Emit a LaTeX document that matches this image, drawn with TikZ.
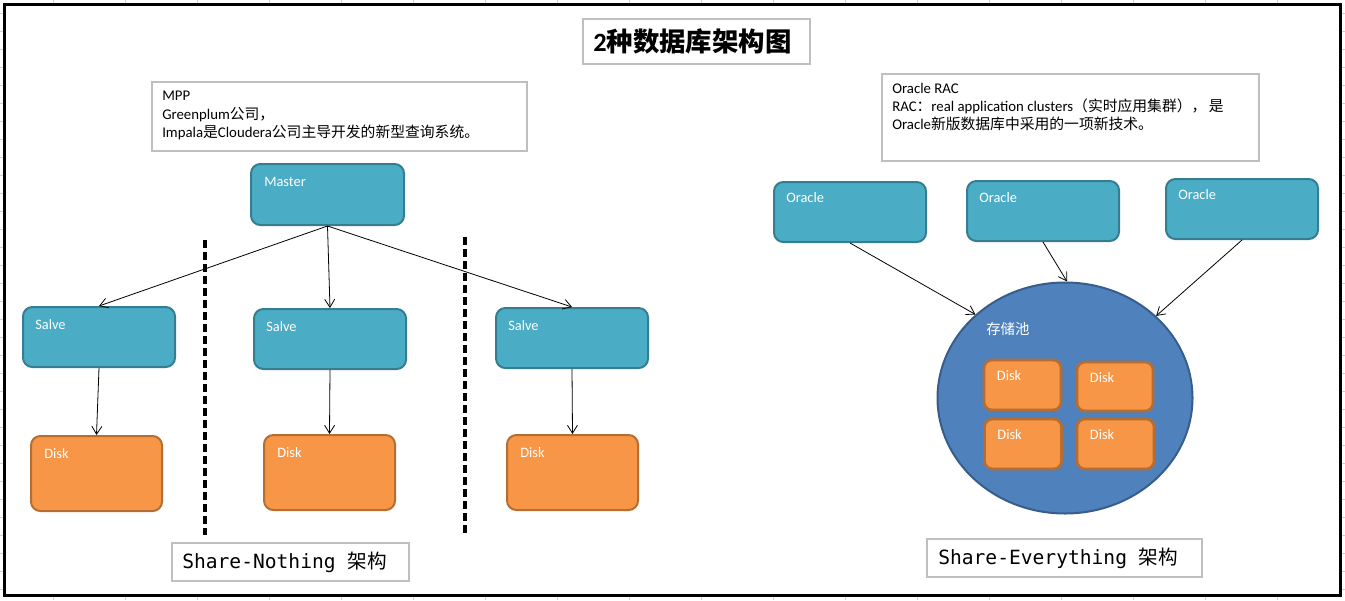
\documentclass[tikz,border=0pt]{standalone}
\usepackage{fontspec}
\setmainfont{Carlito}
\newfontfamily\cjk{Noto Sans CJK SC}
\newfontfamily\mono{DejaVu Sans Mono}
\usetikzlibrary{arrows.meta,calc,shapes.geometric}
\definecolor{bluefill}{HTML}{4BACC6}
\definecolor{blueline}{HTML}{357D91}
\definecolor{orfill}{HTML}{F79646}
\definecolor{orline}{HTML}{B66D31}
\definecolor{poolfill}{HTML}{4F81BD}
\definecolor{poolline}{HTML}{385D8A}
\definecolor{boxline}{HTML}{BFBFBF}
\definecolor{gridc}{HTML}{D0D0D0}
\begin{document}
\begin{tikzpicture}[x=0.75pt,y=-0.75pt,
  sz/.style 2 args={minimum width=#1*0.75pt, minimum height=#2*0.75pt},
  srv/.style={draw=blueline, fill=bluefill, line width=1.5pt, rounded corners=7pt, inner sep=0pt},
  disk/.style={draw=orline, fill=orfill, line width=1.5pt, rounded corners=7pt, inner sep=0pt},
  pdisk/.style={disk, line width=2pt, rounded corners=6pt},
  note/.style={draw=boxline, line width=0.8pt, fill=white, inner sep=0pt},
  lbl/.style={text=white, font=\fontsize{10.8pt}{13pt}\selectfont, anchor=base west, inner sep=0pt},
  txt/.style={font=\fontsize{11.1pt}{13pt}\selectfont, anchor=base west, inner sep=0pt},
  monotxt/.style={font=\mono\fontsize{14.7pt}{17pt}\selectfont, anchor=west, inner sep=0pt},
  link/.style={draw=black, line width=0.6pt, -{Straight Barb[length=6pt,width=7.5pt]}},
  sepline/.style={line width=3pt, dash pattern=on 6pt off 3pt}
]
\useasboundingbox (0,0) rectangle (1345,600);
% spreadsheet grid in the margins
\foreach \i in {0,...,18} \draw[gridc, line width=0.75pt] ({53+72*\i},0) -- ({53+72*\i},600);
\foreach \j in {0,...,32} \draw[gridc, line width=0.75pt] (0,{13+18*\j}) -- (1345,{13+18*\j});
\fill[white] (4.5,4.5) rectangle (1340.5,595.5);
\draw[line width=2.25pt] (4.5,4.5) rectangle (1340.5,595.5);

% title
\node[note, sz={227}{45}] (title) at (696.5,41.5) {};
\node[anchor=west, inner sep=0pt, font=\fontsize{19.8pt}{22pt}\selectfont] (titletext) at (593,41) {\textbf{2}{\cjk\bfseries 种数据库架构图}};

% MPP note
\node[note, sz={375}{69}] (mppbox) at (339.5,116.5) {};
\node[txt] (mpp1) at (162,100.7) {MPP};
\node[txt] (mpp2) at (162,119) {Greenplum{\cjk 公司，}};
\node[txt] (mpp3) at (162,137.5) {Impala{\cjk 是}Cloudera{\cjk 公司主导开发的新型查询系统。}};

% RAC note
\node[note, sz={377}{87}] (racbox) at (1070.5,117.5) {};
\node[txt] (rac1) at (892,93.5) {Oracle RAC};
\node[txt] (rac2) at (892,111.5) {RAC{\cjk ：}real application clusters{\cjk （实时应用集群），}\,{\cjk 是}};
\node[txt] (rac3) at (892,129.5) {Oracle{\cjk 新版数据库中采用的一项新技术。}};

% Share-Nothing side
\node[srv, sz={153}{61}] (m) at (327.5,194.5) {};
\node[lbl] (mlbl) at ($(m.north west)+(14,23)$) {Master};
\node[srv, sz={152}{60}] (s1) at (99,337) {};
\node[lbl] (s1lbl) at ($(s1.north west)+(13,23)$) {Salve};
\node[srv, sz={152}{60}] (s2) at (330,339) {};
\node[lbl] (s2lbl) at ($(s2.north west)+(13,23)$) {Salve};
\node[srv, sz={152}{60}] (s3) at (572,338) {};
\node[lbl] (s3lbl) at ($(s3.north west)+(13,23)$) {Salve};
\node[disk, sz={131}{75}] (d1) at (96.5,473.5) {};
\node[lbl] (d1lbl) at ($(d1.north west)+(14,23.5)$) {Disk};
\node[disk, sz={131}{75}] (d2) at (329.5,472.5) {};
\node[lbl] (d2lbl) at ($(d2.north west)+(14,23.5)$) {Disk};
\node[disk, sz={131}{75}] (d3) at (572.5,472.5) {};
\node[lbl] (d3lbl) at ($(d3.north west)+(14,23.5)$) {Disk};

\draw[link] (m.south) -- (s1.north);
\draw[link] (m.south) -- (s2.north);
\draw[link] (m.south) -- (s3.north);
\draw[link] (s1.south) -- (d1.north);
\draw[link] (s2.south) -- (d2.north);
\draw[link] (s3.south) -- (d3.north);

\coordinate (sepAtop) at (205,240); \coordinate (sepAbot) at (205,535);
\coordinate (sepBtop) at (465,237); \coordinate (sepBbot) at (465,533);
\draw[sepline] (sepAtop) -- (sepAbot);
\draw[sepline] (sepBtop) -- (sepBbot);

\node[note, sz={237}{38}] (snbox) at (290.5,562) {};
\node[monotxt] (sntext) at (182,562) {Share-Nothing {\cjk 架构}};

% Share-Everything side
\node[srv, sz={152}{60}] (o1) at (850,212) {};
\node[lbl] (o1lbl) at ($(o1.north west)+(13,21)$) {Oracle};
\node[srv, sz={152}{60}] (o2) at (1043,211) {};
\node[lbl] (o2lbl) at ($(o2.north west)+(13,22)$) {Oracle};
\node[srv, sz={152}{60}] (o3) at (1242,209) {};
\node[lbl] (o3lbl) at ($(o3.north west)+(13,21)$) {Oracle};

\node[ellipse, draw=poolline, fill=poolfill, line width=1.5pt, sz={255}{231}, inner sep=0pt] (pool) at (1065,398) {};
\node[lbl, anchor=west, font=\cjk\fontsize{10.8pt}{13pt}\selectfont] (poollbl) at (986,329) {存储池};

\node[pdisk, sz={77}{50}] (p1) at (1022.5,385) {};
\node[lbl] (p1lbl) at ($(p1.north west)+(14,22)$) {Disk};
\node[pdisk, sz={76}{49}] (p2) at (1115,386.5) {};
\node[lbl] (p2lbl) at ($(p2.north west)+(14,22)$) {Disk};
\node[pdisk, sz={77}{50}] (p3) at (1023,444) {};
\node[lbl] (p3lbl) at ($(p3.north west)+(14,22)$) {Disk};
\node[pdisk, sz={77}{50}] (p4) at (1115.5,444) {};
\node[lbl] (p4lbl) at ($(p4.north west)+(14,22)$) {Disk};

\draw[link] (o1.south) -- (pool.137.7);
\draw[link] (o2.south) -- (pool.89);
\draw[link] (o3.south) -- (pool.42.7);

\node[note, sz={275}{38}] (sebox) at (1064.5,558) {};
\node[monotxt] (setext) at (938,558) {Share-Everything {\cjk 架构}};
\end{tikzpicture}
\end{document}
